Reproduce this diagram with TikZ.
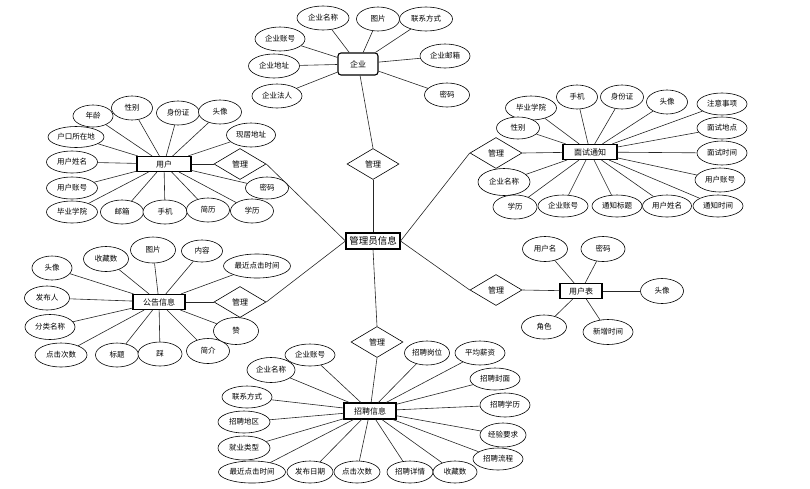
\documentclass[tikz,border=0pt]{standalone}
\usepackage{fontspec}
\newfontfamily\cjk{Noto Sans CJK SC}
\usetikzlibrary{shapes.geometric}
\begin{document}
\begin{tikzpicture}[x=1pt,y=-1pt,
  attr/.style={ellipse,draw=black,fill=white,line width=0.6pt,inner sep=0pt,
    minimum width=44pt,minimum height=24pt,font=\cjk\fontsize{7.5}{9}\selectfont},
  ent/.style={rectangle,draw=black,fill=white,line width=1.1pt,inner sep=0pt,
    minimum height=15pt,font=\cjk\fontsize{8}{10}\selectfont},
  rel/.style={diamond,draw=black,fill=white,line width=0.6pt,inner sep=0pt,
    minimum width=52pt,minimum height=31pt,font=\cjk\fontsize{8}{10}\selectfont},
  link/.style={line width=0.6pt,draw=black!85}]
\useasboundingbox (0,0) rectangle (810,488);

% ---------- connectors drawn first (behind) ----------
\begin{scope}[every node/.style={}]
\end{scope}

% ---------- central ----------
\node[ent,font=\cjk\fontsize{9.5}{11}\selectfont,minimum width=54pt,minimum height=16pt] (adm) at (373,241) {管理员信息};

% ---------- relations ----------
\node[rel] (rq) at (373,164) {管理};
\node[rel] (ru) at (240,164) {管理};
\node[rel] (rm) at (496,153) {管理};
\node[rel] (rg) at (240,302) {管理};
\node[rel] (rb) at (496,290) {管理};
\node[rel] (rz) at (377,342) {管理};

% ---------- entities ----------
\node[ent,rounded corners=3pt,minimum width=40pt,minimum height=22pt] (qy) at (358,64) {企业};
\node[ent,minimum width=54pt] (yh) at (164,164) {用户};
\node[ent,minimum width=54pt] (ms) at (590,152) {面试通知};
\node[ent,minimum width=52pt] (gg) at (159,302) {公告信息};
\node[ent,minimum width=42pt] (yb) at (581,291) {用户表};
\node[ent,minimum width=52pt,minimum height=16pt] (zp) at (370,411) {招聘信息};

% ---------- 企业 attributes ----------
\node[attr,minimum width=52pt] (q1) at (323,18) {企业名称};
\node[attr,minimum width=43pt] (q2) at (378,19) {图片};
\node[attr,minimum width=53pt] (q3) at (426,19) {联系方式};
\node[attr,minimum width=50pt] (q4) at (280,39) {企业账号};
\node[attr,minimum width=51pt] (q5) at (274,66) {企业地址};
\node[attr,minimum width=50pt] (q6) at (277,96) {企业法人};
\node[attr,minimum width=50pt] (q7) at (445,56) {企业邮箱};
\node[attr,minimum width=45pt] (q8) at (447,95) {密码};

% ---------- 用户 attributes ----------
\node[attr,minimum width=40pt,minimum height=22pt] (u1) at (93,116) {年龄};
\node[attr,minimum width=41pt] (u2) at (132,108) {性别};
\node[attr,minimum width=43pt] (u3) at (178,113) {身份证};
\node[attr,minimum width=43pt] (u4) at (220,112) {头像};
\node[attr,minimum width=56pt,minimum height=21pt] (u5) at (76,137) {户口所在地};
\node[attr,minimum width=49pt] (u6) at (251,135) {现居地址};
\node[attr,minimum width=51pt,minimum height=22pt] (u7) at (72,162) {用户姓名};
\node[attr,minimum width=51pt,minimum height=22pt] (u8) at (72,188) {用户账号};
\node[attr,minimum width=51pt,minimum height=22pt] (u9) at (72,212) {毕业学院};
\node[attr,minimum width=43pt] (u10) at (122,212) {邮箱};
\node[attr,minimum width=44pt] (u11) at (165,212) {手机};
\node[attr,minimum width=43pt] (u12) at (208,210) {简历};
\node[attr,minimum width=43pt] (u13) at (252,211) {学历};
\node[attr,minimum width=43pt,minimum height=22pt] (u14) at (267,188) {密码};

% ---------- 面试通知 attributes ----------
\node[attr,minimum width=51pt] (m1) at (531,108) {毕业学院};
\node[attr,minimum width=41pt] (m2) at (577,97) {手机};
\node[attr,minimum width=43pt] (m3) at (622,97) {身份证};
\node[attr,minimum width=41pt] (m4) at (667,102) {头像};
\node[attr,minimum width=50pt,minimum height=22pt] (m5) at (722,104) {注意事项};
\node[attr,minimum width=43pt,minimum height=22pt] (m6) at (518,128) {性别};
\node[attr,minimum width=50pt,minimum height=22pt] (m7) at (722,128) {面试地点};
\node[attr,minimum width=50pt] (m8) at (722,153) {面试时间};
\node[attr,minimum width=50pt] (m9) at (720,180) {用户账号};
\node[attr,minimum width=50pt,minimum height=22pt] (m10) at (718,206) {通知时间};
\node[attr,minimum width=52pt,minimum height=27pt] (m11) at (504,182) {企业名称};
\node[attr,minimum width=44pt] (m12) at (515,207) {学历};
\node[attr,minimum width=50pt,minimum height=22pt] (m13) at (563,206) {企业账号};
\node[attr,minimum width=50pt,minimum height=22pt] (m14) at (617,206) {通知标题};
\node[attr,minimum width=49pt,minimum height=22pt] (m15) at (667,206) {用户姓名};

% ---------- 公告信息 attributes ----------
\node[attr,minimum width=40pt] (g1) at (52,268) {头像};
\node[attr,minimum width=45pt,minimum height=25pt] (g2) at (106,259) {收藏数};
\node[attr,minimum width=45pt,minimum height=26pt] (g3) at (153,250) {图片};
\node[attr,minimum width=41pt,minimum height=22pt] (g4) at (202,251) {内容};
\node[attr,minimum width=67pt] (g5) at (257,266) {最近点击时间};
\node[attr,minimum width=45pt] (g6) at (47,298) {发布人};
\node[attr,minimum width=50pt,minimum height=25pt] (g7) at (50,327) {分类名称};
\node[attr,minimum width=52pt] (g8) at (61,355) {点击次数};
\node[attr,minimum width=43pt] (g9) at (117,355) {标题};
\node[attr,minimum width=44pt] (g10) at (160,354) {踩};
\node[attr,minimum width=43pt,minimum height=25pt] (g11) at (208,351) {简介};
\node[attr,minimum width=45pt,minimum height=27pt] (g12) at (236,331) {赞};

% ---------- 用户表 attributes ----------
\node[attr,minimum width=45pt,minimum height=25pt] (b1) at (545,249) {用户名};
\node[attr,minimum width=44pt,minimum height=25pt] (b2) at (603,249) {密码};
\node[attr,minimum width=43pt,minimum height=25pt] (b3) at (662,291) {头像};
\node[attr,minimum width=45pt] (b4) at (544,327) {角色};
\node[attr,minimum width=50pt,minimum height=25pt] (b5) at (608,332) {新增时间};

% ---------- 招聘信息 attributes ----------
\node[attr,minimum width=50pt,minimum height=22pt] (z1) at (310,355) {企业账号};
\node[attr,minimum width=48pt,minimum height=25pt] (z2) at (271,370) {企业名称};
\node[attr,minimum width=50pt,minimum height=22pt] (z3) at (247,397) {联系方式};
\node[attr,minimum width=52pt,minimum height=22pt] (z4) at (244,422) {招聘地区};
\node[attr,minimum width=52pt] (z5) at (244,448) {就业类型};
\node[attr,minimum width=67pt,minimum height=22pt] (z6) at (252,472) {最近点击时间};
\node[attr,minimum width=46pt,minimum height=22pt] (z7) at (310,472) {发布日期};
\node[attr,minimum width=46pt,minimum height=22pt] (z8) at (357,472) {点击次数};
\node[attr,minimum width=46pt,minimum height=22pt] (z9) at (410,472) {招聘详情};
\node[attr,minimum width=44pt,minimum height=22pt] (z10) at (455,472) {收藏数};
\node[attr,minimum width=45pt,minimum height=24pt] (z11) at (427,353) {招聘岗位};
\node[attr,minimum width=50pt,minimum height=24pt] (z12) at (480,353) {平均薪资};
\node[attr,minimum width=50pt,minimum height=22pt] (z13) at (495,379) {招聘封面};
\node[attr,minimum width=50pt] (z14) at (505,405) {招聘学历};
\node[attr,minimum width=46pt] (z15) at (503,435) {经验要求};
\node[attr,minimum width=50pt,minimum height=22pt] (z16) at (498,459) {招聘流程};

% ---------- connectors ----------
\begin{scope}[link]
  \foreach \a in {q1,q2,q3,q4,q5,q6,q7,q8} \draw (\a) -- (qy);
  \foreach \a in {u1,u2,u3,u4,u5,u6,u7,u8,u9,u10,u11,u12,u13,u14} \draw (\a) -- (yh);
  \foreach \a in {m1,m2,m3,m4,m5,m6,m7,m8,m9,m10,m11,m12,m13,m14,m15} \draw (\a) -- (ms);
  \foreach \a in {g1,g2,g3,g4,g5,g6,g7,g8,g9,g10,g11,g12} \draw (\a) -- (gg);
  \foreach \a in {b1,b2,b3,b4,b5} \draw (\a) -- (yb);
  \foreach \a in {z1,z2,z3,z4,z5,z6,z7,z8,z9,z10,z11,z12,z13,z14,z15,z16} \draw (\a) -- (zp);
  % relations
  \draw (rq.north) -- (qy);
  \draw (rq.south) -- (adm.north);
  \draw (yh) -- (ru.west);
  \draw (ru.east) -- (adm.west);
  \draw (ms) -- (rm.east);
  \draw (rm.west) -- (adm.east);
  \draw (gg) -- (rg.west);
  \draw (rg.east) -- (adm.west);
  \draw (yb) -- (rb.east);
  \draw (rb.west) -- (adm.east);
  \draw (adm.south) -- (rz.north);
  \draw (rz.south) -- (zp);
\end{scope}
\end{tikzpicture}
\end{document}
